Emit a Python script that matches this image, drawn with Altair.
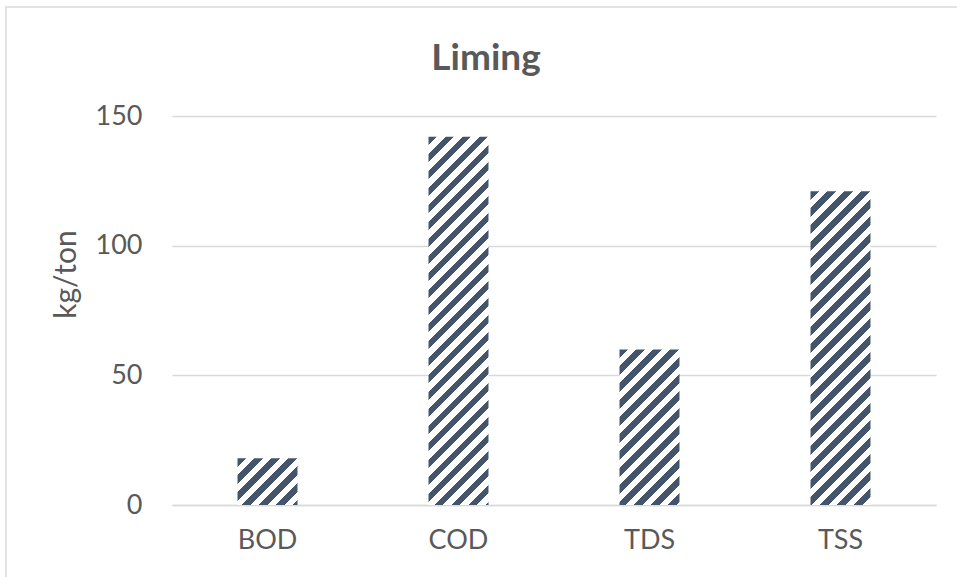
import altair as alt
import pandas as pd

# ---- data ----
categories = ["BOD", "COD", "TDS", "TSS"]
values = [18, 142, 60, 121]
y_ticks = [0, 50, 100, 150]
chart_title = "Liming"
y_title = "kg/ton"

# ---- layout / style ----
PLOT_W, PLOT_H = 764, 389
PAD = {"left": 172, "top": 116, "right": 21, "bottom": 72}
Y_MAX = 150
BAR_PX = 60
PERIOD = 17
DARK = "#44546A"
LIGHT = "#FFFFFF"
TEXT = "#595959"
GRID = "#D9D9D9"
FONT = "Lato"

df = pd.DataFrame({"param": categories, "value": values})


def hatch(h, w=BAR_PX):
    """Diagonal '/' stripes at 45 degrees as a linear gradient in bbox units."""
    total = w + h
    stops = []
    t = 0.0
    dark = True
    while t < total:
        t1 = min(t + PERIOD / 2, total)
        c = DARK if dark else LIGHT
        stops.append(alt.GradientStop(offset=t / total, color=c))
        stops.append(alt.GradientStop(offset=t1 / total, color=c))
        t = t1
        dark = not dark
    k = (w + h) / (w * w + h * h)
    return alt.LinearGradient(gradient="linear", stops=stops,
                              x1=0, y1=0, x2=w * k, y2=h * k)


x_enc = alt.X("param:N", sort=categories, title=None,
              scale=alt.Scale(paddingInner=0.686, paddingOuter=0.343),
              axis=alt.Axis(labelAngle=0, labelFontSize=27, labelColor=TEXT,
                            labelFont=FONT, labelPadding=22, ticks=False,
                            domainColor=GRID, domainWidth=1.3))
y_enc = alt.Y("value:Q", title=y_title,
              scale=alt.Scale(domain=[0, Y_MAX], nice=False),
              axis=alt.Axis(values=y_ticks, labelFontSize=27, labelColor=TEXT,
                            labelFont=FONT, labelPadding=30, ticks=False,
                            domain=False, gridColor=GRID, gridWidth=1.3,
                            titleFontSize=30, titleColor=TEXT, titleFont=FONT,
                            titleFontWeight="normal", titlePadding=14,
                            titleY=158))

layers = []
for cat, val in zip(categories, values):
    h = val * PLOT_H / Y_MAX
    layers.append(
        alt.Chart(df).transform_filter(alt.datum.param == cat)
        .mark_bar(fill=hatch(h), stroke="transparent")
        .encode(x=x_enc, y=y_enc)
    )

frame = alt.Chart(pd.DataFrame({"f": [0]})).mark_rect(
    fillOpacity=0, stroke=GRID, strokeWidth=1.5, clip=False
).encode(
    x=alt.value(-PAD["left"] + 6), x2=alt.value(PLOT_W + PAD["right"] + 5),
    y=alt.value(-PAD["top"] + 7), y2=alt.value(PLOT_H + PAD["bottom"] + 5),
)

chart = alt.layer(frame, *layers).properties(
    width=PLOT_W, height=PLOT_H,
    title=alt.TitleParams(chart_title, fontSize=37, fontWeight="bold",
                          color=TEXT, font=FONT, anchor="middle", dx=-68,
                          baseline="alphabetic", offset=-101),
    autosize=alt.AutoSizeParams(type="none"),
    padding=PAD,
    background="white",
).configure_view(strokeWidth=0)

chart.save("out.html", embed_options={"renderer": "svg", "actions": False})
